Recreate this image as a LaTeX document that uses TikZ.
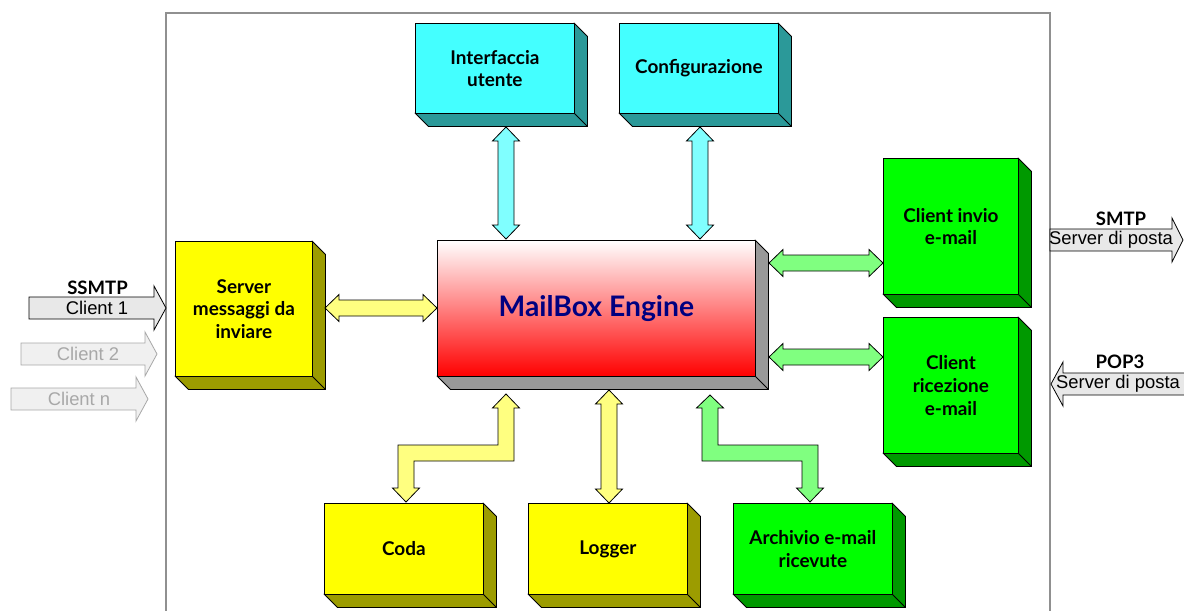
\documentclass[tikz,border=0pt]{standalone}
\usepackage{fontspec}
\setmainfont{Lato}
\newfontfamily\arialf{Liberation Sans}
\usetikzlibrary{calc}
\definecolor{cyanF}{HTML}{44FFFF}
\definecolor{cyanS}{HTML}{2B9999}
\definecolor{yelF}{HTML}{FFFF00}
\definecolor{yelS}{HTML}{9C9C00}
\definecolor{grnF}{HTML}{00FF00}
\definecolor{grnS}{HTML}{009900}
\definecolor{engS}{HTML}{999999}
\definecolor{cyanA}{HTML}{80FFFF}
\definecolor{yelA}{HTML}{FFFF80}
\definecolor{grnA}{HTML}{80FF80}
\definecolor{navytxt}{HTML}{000080}
\definecolor{ghost}{HTML}{A8A8A8}
\definecolor{ghostfill}{HTML}{F0F0F0}
\definecolor{arrfill}{HTML}{E8E8E8}
\definecolor{framecol}{HTML}{909090}
\tikzset{
  boxlbl/.style={font=\bfseries\fontsize{14.2}{17}\selectfont, align=center, text=black},
  blockarrow/.style={draw=black, line width=0.6pt, line join=miter},
  frameline/.style={draw=framecol, line width=0.8pt},
  arialtxt/.style={font=\arialf\fontsize{13.8}{15}\selectfont, inner sep=0pt},
  prototxt/.style={font=\bfseries\fontsize{13.9}{15}\selectfont, inner sep=0pt},
  mainarrow/.style={draw=black, line width=0.6pt, fill=arrfill},
  ghostarrow/.style={draw=ghost, line width=0.6pt, fill=ghostfill},
}
\newcommand\boxthree[8]{%
  \filldraw[fill=#7, draw=black, line width=0.6pt, line join=round]
    (#4,#3) -- (#4+13.5,#3+13.5) -- (#4+13.5,#5+13.5) -- (#2+13.5,#5+13.5) -- (#2,#5) -- (#4,#5) -- cycle;
  \draw[line width=0.6pt] (#4,#5) -- (#4+13.5,#5+13.5);
  \node[boxlbl, draw=black, line width=0.6pt, #6, inner sep=0pt, anchor=north west,
        minimum width={(#4-#2)*0.75pt}, minimum height={(#5-#3)*0.75pt}] (#1) at (#2,#3) {#8};
}
\newcommand\vdarrow[3]{%
  \filldraw[blockarrow, fill=#1] (#2) -- ++(13.5,14) -- ++(-5.5,0) -- ($(#3)+(8,-14)$) -- ++(5.5,0) -- (#3)
    -- ++(-13.5,-14) -- ++(5.5,0) -- ($(#2)+(-8,14)$) -- ++(-5.5,0) -- cycle;}
\newcommand\hdarrow[3]{%
  \filldraw[blockarrow, fill=#1] (#2) -- ++(14,-13.5) -- ++(0,5.5) -- ($(#3)+(-14,-8)$) -- ++(0,-5.5) -- (#3)
    -- ++(-14,13.5) -- ++(0,-5.5) -- ($(#2)+(14,8)$) -- ++(0,5.5) -- cycle;}
\begin{document}
\begin{tikzpicture}[x=0.75pt,y=-0.75pt]
\useasboundingbox (0,0) rectangle (1184,610);
\fill[white] (0,0) rectangle (1184,610);
% frame
\draw[frameline] (166,612) -- (166,13) -- (1050,13) -- (1050,612);
% boxes
\boxthree{ui}{415}{23}{574}{113}{fill=cyanF}{cyanS}{Interfaccia\\utente}
\boxthree{cfg}{619}{23}{778}{113}{fill=cyanF}{cyanS}{Configurazione}
\boxthree{srv}{175}{241}{312}{376}{fill=yelF}{yelS}{Server\\messaggi da\\inviare}
\boxthree{eng}{437}{240}{755}{376}{top color=white,bottom color=red}{engS}{\textcolor{navytxt}{\fontsize{21.2}{23}\selectfont MailBox Engine}}
\boxthree{cinv}{883}{158}{1018}{294}{fill=grnF}{grnS}{Client invio\\e-mail}
\boxthree{cric}{883}{317}{1018}{453}{fill=grnF}{grnS}{Client\\ricezione\\e-mail}
\boxthree{coda}{324}{503}{483}{594}{fill=yelF}{yelS}{Coda}
\boxthree{logg}{528}{503}{687}{594}{fill=yelF}{yelS}{Logger}
\boxthree{arch}{733}{503}{892}{594}{fill=grnF}{grnS}{Archivio e-mail\\ricevute}
% connector end points
\coordinate (ui-t) at (506,127);   \coordinate (ui-e) at (506,239);
\coordinate (cfg-t) at (700,127);  \coordinate (cfg-e) at (700,239);
\coordinate (srv-r) at (325,308);  \coordinate (eng-l) at (437,308);
\coordinate (eng-r1) at (769,263); \coordinate (cinv-l) at (883,263);
\coordinate (eng-r2) at (769,357); \coordinate (cric-l) at (883,357);
\coordinate (eng-b1) at (506,394); \coordinate (coda-t) at (406,502);
\coordinate (eng-b2) at (609,390); \coordinate (logg-t) at (609,503);
\coordinate (eng-b3) at (710,395); \coordinate (arch-t) at (810,502);
% double block arrows
\vdarrow{cyanA}{ui-t}{ui-e}
\vdarrow{cyanA}{cfg-t}{cfg-e}
\hdarrow{yelA}{srv-r}{eng-l}
\hdarrow{grnA}{eng-r1}{cinv-l}
\hdarrow{grnA}{eng-r2}{cric-l}
\vdarrow{yelA}{eng-b2}{logg-t}
\filldraw[blockarrow, fill=yelA] (eng-b1) -- ++(13.5,14) -- ++(-5.5,0) -- (514,461) -- (414,461)
  -- ($(coda-t)+(8,-14)$) -- ++(5.5,0) -- (coda-t) -- ++(-13.5,-14) -- ++(5.5,0) -- (398,445) -- (498,445)
  -- ($(eng-b1)+(-8,14)$) -- ++(-5.5,0) -- cycle;
\filldraw[blockarrow, fill=grnA] (eng-b3) -- ++(13.5,13) -- ++(-5.5,0) -- (718,445) -- (818,445)
  -- ($(arch-t)+(8,-14)$) -- ++(5.5,0) -- (arch-t) -- ++(-13.5,-14) -- ++(5.5,0) -- (802,461) -- (702,461)
  -- ($(eng-b3)+(-8,13)$) -- ++(-5.5,0) -- cycle;
% left client arrows
\coordinate (c1tip) at (166,308);
\coordinate (c2tip) at (157,354);
\coordinate (cntip) at (148,399);
\filldraw[mainarrow] (29,297) -- (154,297) -- (154,286) -- (c1tip) -- (154,330) -- (154,319) -- (29,319) -- cycle;
\filldraw[ghostarrow] (21,343) -- (145,343) -- (145,332) -- (c2tip) -- (145,376) -- (145,365) -- (21,365) -- cycle;
\filldraw[ghostarrow] (11,388) -- (136,388) -- (136,377) -- (cntip) -- (136,421) -- (136,410) -- (11,410) -- cycle;
\node[arialtxt] (c1) at (97,308) {Client 1};
\node[prototxt] (ssmtp) at (97.5,288) {SSMTP};
\node[arialtxt, text=ghost] (c2) at (88,354) {Client 2};
\node[arialtxt, text=ghost] (cn) at (79,399) {Client n};
% right server arrows
\coordinate (smtptip) at (1183,240);
\coordinate (poptip) at (1051,384);
\filldraw[mainarrow] (1050,229) -- (1172,229) -- (1172,218) -- (smtptip) -- (1172,262) -- (1172,251) -- (1050,251) -- cycle;
\filldraw[mainarrow] (1190,373) -- (1063,373) -- (1063,362) -- (poptip) -- (1063,406) -- (1063,395) -- (1190,395) -- cycle;
\node[prototxt] (smtp) at (1121,219) {SMTP};
\node[arialtxt] (sp1) at (1111,240) {Server di posta};
\node[prototxt] (pop3) at (1120,362) {POP3};
\node[arialtxt] (sp2) at (1118,384) {Server di posta};
\end{tikzpicture}
\end{document}
